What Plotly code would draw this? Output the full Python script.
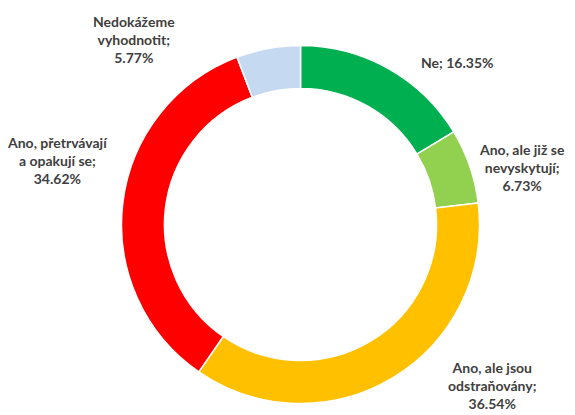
import plotly.graph_objects as go

# data (clockwise from 12 o'clock)
labels = ["Ne", "Ano, ale již se nevyskytují", "Ano, ale jsou odstraňovány",
          "Ano, přetrvávají a opakují se", "Nedokážeme vyhodnotit"]
values = [16.35, 6.73, 36.54, 34.62, 5.77]
label_lines = [["Ne"], ["Ano, ale již se", "nevyskytují"], ["Ano, ale jsou", "odstraňovány"],
               ["Ano, přetrvávají", "a opakují se"], ["Nedokážeme", "vyhodnotit"]]
colors = ["#00B050", "#92D050", "#FFC000", "#FF0000", "#C5D9F1"]

# the page body adds an 8px margin, so the figure is drawn 8px smaller
# and every screen position is shifted back by that offset
OFF = 8
W, H = 575 - OFF, 415 - OFF
# donut centre and outer radius in screen pixels
cx, cy, r = 300.5 - OFF, 224.5 - OFF, 179

fig = go.Figure(go.Pie(
    labels=labels, values=values,
    sort=False, direction="clockwise", rotation=0,
    hole=0.76,
    marker=dict(colors=colors, line=dict(color="white", width=1.5)),
    textinfo="none", showlegend=False,
    domain=dict(x=[(cx - r) / W, (cx + r) / W],
                y=[(H - cy - r) / H, (H - cy + r) / H]),
))

# label centres (screen pixels)
label_pos = [(457, 63), (522, 168), (492, 385), (57, 160), (134, 40)]

for lines, v, (px, py) in zip(label_lines, values, label_pos):
    if len(lines) == 1:
        txt = f"{lines[0]}; {v:.2f}%"
    else:
        txt = "<br>".join(lines[:-1] + [lines[-1] + ";", f"{v:.2f}%"])
    fig.add_annotation(x=(px - OFF) / W, y=1 - (py - OFF) / H, xref="paper", yref="paper",
                       text=f"<b>{txt}</b>", showarrow=False,
                       xanchor="center", yanchor="middle",
                       font=dict(size=14, color="#404040", family="Lato"))

fig.update_layout(width=W, height=H, margin=dict(l=0, r=0, t=0, b=0),
                  paper_bgcolor="white", plot_bgcolor="white")

fig.write_html("out.html")
